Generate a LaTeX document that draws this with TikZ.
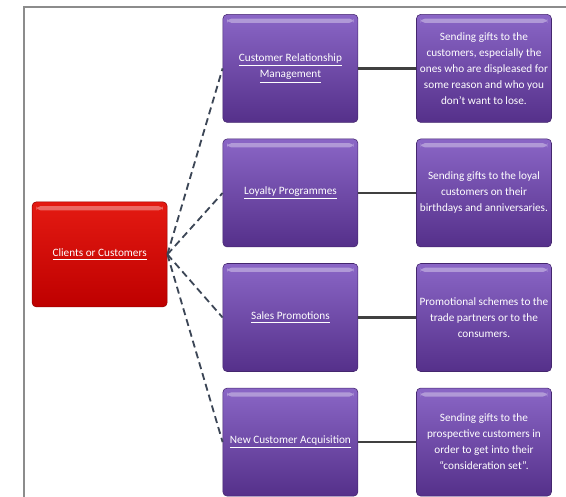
\documentclass[tikz,border=0pt]{standalone}
\usepackage{fontspec}
\setmainfont{Carlito}
\usepackage{xcolor}
\usepackage{tikz}
\usetikzlibrary{positioning}
\definecolor{purpleTop}{HTML}{8A66C6}
\definecolor{purpleBot}{HTML}{55308A}
\definecolor{redTop}{HTML}{E41A12}
\definecolor{redBot}{HTML}{BE0000}
\definecolor{dashGray}{HTML}{3C4656}
\newcommand{\Link}[1]{\underline{#1}}

\begin{document}
\begin{tikzpicture}[
node distance=0.4cm,
box/.style={rounded corners=3pt, align=center, text=white, font=\fontsize{8}{11.4}\selectfont,
  minimum width=3.375cm, minimum height=2.7cm, inner sep=2pt, draw=purpleBot!80!black, line width=0.4pt,
  top color=purpleTop, bottom color=purpleBot,
  path picture={\fill[white,opacity=0.35]
    ([xshift=3pt,yshift=-3pt]path picture bounding box.north west) rectangle
    ([xshift=-3pt,yshift=-6pt]path picture bounding box.north east);}},
root/.style={box, top color=redTop, bottom color=redBot, draw=redBot!80!black, minimum height=2.625cm},
dashline/.style={dashGray, line width=1.3pt, dash pattern=on 5pt off 3pt},
link/.style={draw=black!75, line width=2pt}
]
\useasboundingbox (0,0) rectangle (14.15,12.4);
\draw[black!45, line width=1.4pt] (0.6,-0.2) -- (0.6,12.225) -- (14.4,12.225);
\node[root] (clients) at (2.49,6.04) {\Link{Clients or Customers}};
\node[box] (crm) at (7.26,10.69) {\Link{Customer Relationship}\\\Link{Management}};
\node[box, below=of crm] (loyal) {\Link{Loyalty Programmes}};
\node[box, below=of loyal] (sales) {\Link{Sales Promotions}};
\node[box, below=of sales] (newcust) {\Link{New Customer Acquisition}};
\node[box, right=1.45cm of crm] (crmtxt) {Sending gifts to the\\customers, especially the\\ones who are displeased for\\some reason and who you\\don't want to lose.};
\node[box, right=1.45cm of loyal] (loyaltxt) {Sending gifts to the loyal\\customers on their\\birthdays and anniversaries.};
\node[box, right=1.45cm of sales] (salestxt) {Promotional schemes to the\\trade partners or to the\\consumers.};
\node[box, right=1.45cm of newcust] (newtxt) {Sending gifts to the\\prospective customers in\\order to get into their\\“consideration set”.};
% dashed fan from the client box
\foreach \m in {crm,loyal,sales,newcust}
  \draw[dashline] (clients.east) -- (\m.west);
\draw[link] (crm) -- (crmtxt);
\draw[link] (loyal) -- (loyaltxt);
\draw[link] (sales) -- (salestxt);
\draw[link] (newcust) -- (newtxt);
\end{tikzpicture}
\end{document}
